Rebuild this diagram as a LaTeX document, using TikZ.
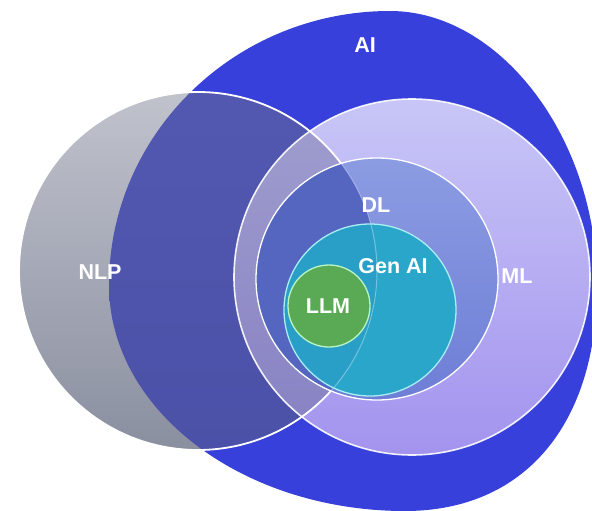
\documentclass[tikz,border=0pt]{standalone}
\usepackage{fontspec}
\setmainfont{Liberation Sans}
\definecolor{aiblue}{HTML}{3740DA}
\definecolor{nlpTop}{HTML}{C0C2CC}
\definecolor{nlpBot}{HTML}{8A8FA0}
\definecolor{nlpaiTop}{HTML}{5459B2}
\definecolor{nlpaiBot}{HTML}{4A50A6}
\definecolor{mlTop}{HTML}{C8C6F7}
\definecolor{mlBot}{HTML}{A393EE}
\definecolor{mlnlpTop}{HTML}{A09ECF}
\definecolor{mlnlpBot}{HTML}{8680C2}
\definecolor{dlTop}{HTML}{8C9CE2}
\definecolor{dlBot}{HTML}{6E7ED6}
\definecolor{dlnlp}{HTML}{5466C0}
\definecolor{genai}{HTML}{2AA6CB}
\definecolor{genainlp}{HTML}{299FC7}
\definecolor{genline}{HTML}{A8EEF2}
\definecolor{llmgreen}{HTML}{5AAA55}
\definecolor{llmline}{HTML}{B8F4C4}
\begin{document}
\begin{tikzpicture}[x=1pt,y=-1pt,
  lbl/.style={text=white,font=\bfseries\fontsize{21.5}{22}\selectfont,inner sep=0pt},
  whiteline/.style={draw=white,line width=1.8pt}]
\fill[white] (0,0) rectangle (592,511);
\useasboundingbox (0,0) rectangle (592,511);
\def\AIpath{(390,11) .. controls (500,11) and (597,138) .. (597,285) .. controls (597,425) and (524,511) .. (405,511) .. controls (242,511) and (109,410) .. (109,285) .. controls (109,134) and (235,11) .. (390,11) -- cycle}
\def\NLPc{(198,271) circle[radius=179pt]}
\def\MLc{(412,277) circle[radius=178pt]}
\def\DLc{(377,279) circle[radius=121pt]}
\def\GENc{(370,310) circle[radius=86pt]}
\def\LLMc{(329,306) circle[radius=41pt]}
% AI
\fill[aiblue] \AIpath;
% NLP
\shade[top color=nlpTop,bottom color=nlpBot] \NLPc;
\begin{scope}
  \clip \NLPc;
  \shade[top color=nlpaiTop,bottom color=nlpaiBot] \AIpath;
\end{scope}
% ML
\shade[top color=mlTop,bottom color=mlBot] \MLc;
\begin{scope}
  \clip \NLPc;
  \shade[top color=mlnlpTop,bottom color=mlnlpBot] \MLc;
\end{scope}
\draw[whiteline] \NLPc;
\draw[draw=white,line width=1.6pt,opacity=0.9] \MLc;
% DL
\shade[top color=dlTop,bottom color=dlBot] \DLc;
\begin{scope}
  \clip \NLPc;
  \fill[dlnlp] \DLc;
\end{scope}
\draw[draw=white,line width=1.3pt] \DLc;
% Gen AI
\fill[genai] \GENc;
\begin{scope}
  \clip \NLPc;
  \fill[genainlp] \GENc;
\end{scope}
\begin{scope}
  \clip \DLc;
  \draw[draw=white,line width=1pt,opacity=0.35] \NLPc;
\end{scope}
\draw[draw=genline,line width=1.3pt] \GENc;
% LLM
\fill[llmgreen] \LLMc;
\draw[draw=llmline,line width=1.3pt] \LLMc;
% labels
\node[lbl] (ai) at (365,45) {AI};
\node[lbl] (nlp) at (100,272) {NLP};
\node[lbl] (ml) at (517,276) {ML};
\node[lbl] (dl) at (376,205) {DL};
\node[lbl] (gen) at (393,266) {Gen AI};
\node[lbl] (llm) at (328,306) {LLM};
\end{tikzpicture}
\end{document}
